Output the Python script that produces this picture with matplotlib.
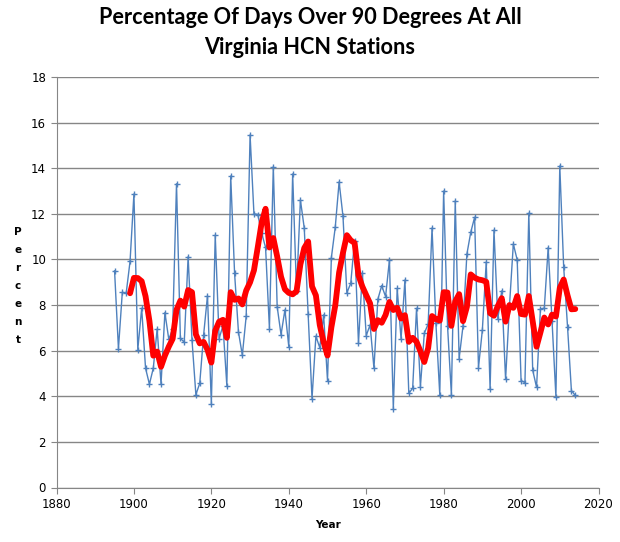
import matplotlib
matplotlib.use("Agg")
import matplotlib.pyplot as plt
import numpy as np
import pandas as pd

years = list(range(1895, 2015))
percent = [
    9.5, 6.09, 8.56, 8.52, 9.92, 12.87, 6.05, 7.86, 5.23, 4.53,
    5.23, 6.95, 4.53, 7.67, 6.5, 6.94, 13.32, 6.54, 6.37, 10.12,
    6.47, 4.07, 4.57, 6.69, 8.41, 3.65, 11.07, 6.53, 7.1, 4.47,
    13.66, 9.39, 6.82, 5.8, 7.52, 15.46, 12.0, 11.97, 11.15, 10.53,
    6.97, 14.07, 7.93, 6.70, 7.79, 6.18, 13.75, 8.6, 12.61, 11.37,
    7.6, 3.9, 6.64, 6.13, 7.57, 4.69, 10.08, 11.41, 13.4, 11.89,
    8.54, 8.95, 10.83, 6.32, 9.42, 6.66, 7.13, 5.23, 8.25, 8.85,
    8.37, 9.98, 3.46, 8.73, 6.51, 9.1, 4.13, 4.35, 7.86, 4.42,
    6.76, 7.17, 11.38, 7.2, 4.07, 13.0, 7.1, 4.07, 12.57, 5.65,
    7.08, 10.23, 11.19, 11.85, 5.26, 6.91, 9.89, 4.31, 11.29, 7.4,
    8.62, 4.74, 7.95, 10.68, 9.98, 4.69, 4.6, 12.03, 5.15, 4.39,
    7.83, 7.86, 10.52, 7.3, 3.98, 14.1, 9.69, 7.05, 4.25, 4.04,
]
ma_period = 5
x_ticks = [1880, 1900, 1920, 1940, 1960, 1980, 2000, 2020]
y_ticks = [0, 2, 4, 6, 8, 10, 12, 14, 16, 18]

ma = pd.Series(percent, index=years).rolling(ma_period).mean()

fig = plt.figure(figsize=(6.2, 5.42), dpi=100)
ax = fig.add_axes([56.5/620, 1 - 487.5/542, 542/620, 410.5/542])

ax.plot(years, percent, color="#4F81BD", lw=1.0, marker="+", ms=4.5, mew=1.0)
ax.plot(ma.index, ma.values, color="#FF0000", lw=4.2, solid_joinstyle="round", solid_capstyle="round")

ax.set_xlim(1880, 2020)
ax.set_ylim(0, 18)
ax.set_xticks(x_ticks)
ax.set_yticks(y_ticks)
ax.yaxis.grid(True, color="#868686", lw=1.0)
ax.set_axisbelow(True)
for s in ["top", "right"]:
    ax.spines[s].set_visible(False)
for s in ["left", "bottom"]:
    ax.spines[s].set_color("#868686")
ax.tick_params(axis="both", colors="#868686", length=4, labelcolor="black", labelsize=8.5)

fig.text(0.5, 1 - 18/542, "Percentage Of Days Over 90 Degrees At All", ha="center", va="center",
         fontsize=15.6, fontweight="bold", family="Lato")
fig.text(0.5, 1 - 47/542, "Virginia HCN Stations", ha="center", va="center",
         fontsize=15.6, fontweight="bold", family="Lato")
fig.text(18/620, 1 - 286/542, "P\ne\nr\nc\ne\nn\nt", ha="center", va="center",
         fontsize=7.5, fontweight="bold", linespacing=2.0)
fig.text(328/620, 1 - 525/542, "Year", ha="center", va="center", fontsize=7.5, fontweight="bold")

fig.savefig("out.png", dpi=100)
